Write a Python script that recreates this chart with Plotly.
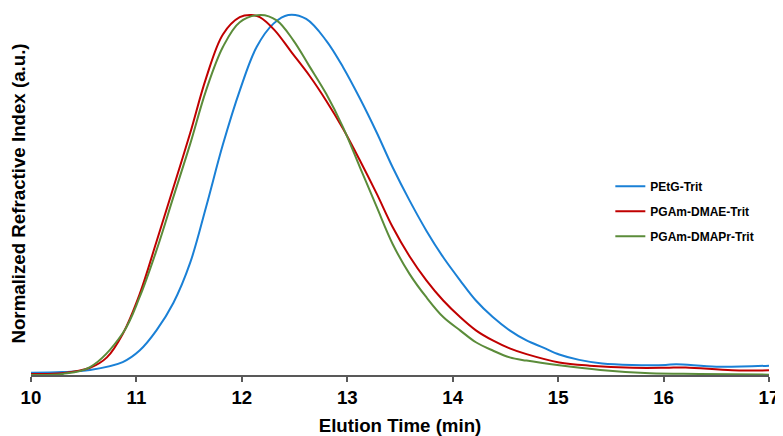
import plotly.graph_objects as go

# Elution time (min) and normalized RI values
petg_t = [10.00, 10.30, 10.56, 10.87, 11.03, 11.19, 11.35, 11.51, 11.66, 11.82, 11.98, 12.14,
          12.30, 12.44, 12.61, 12.80, 12.96, 13.12, 13.28, 13.43, 13.59, 13.75, 13.91, 14.07,
          14.22, 14.38, 14.54, 14.70, 14.86, 15.01, 15.20, 15.42, 15.70, 16.02, 16.12, 16.50,
          17.00]
petg_v = [0.006, 0.008, 0.014, 0.036, 0.068, 0.124, 0.200, 0.312, 0.466, 0.640, 0.790, 0.911,
          0.976, 1.000, 0.989, 0.929, 0.855, 0.768, 0.673, 0.577, 0.485, 0.401, 0.327, 0.263,
          0.207, 0.161, 0.124, 0.096, 0.076, 0.057, 0.042, 0.032, 0.028, 0.028, 0.030, 0.023,
          0.026]

dmae_t = [10.00, 10.30, 10.56, 10.72, 10.87, 11.03, 11.19, 11.35, 11.51, 11.66, 11.82, 11.98,
          12.09, 12.17, 12.31, 12.47, 12.64, 12.80, 12.96, 13.12, 13.28, 13.43, 13.59, 13.75,
          13.91, 14.07, 14.22, 14.38, 14.54, 14.70, 15.01, 15.30, 15.71, 16.02, 16.21, 16.65,
          17.00]
dmae_v = [0.003, 0.005, 0.020, 0.049, 0.114, 0.224, 0.370, 0.520, 0.672, 0.824, 0.946, 0.994,
          1.000, 0.994, 0.958, 0.897, 0.832, 0.762, 0.684, 0.596, 0.503, 0.411, 0.330, 0.263,
          0.207, 0.161, 0.124, 0.096, 0.074, 0.058, 0.035, 0.026, 0.020, 0.020, 0.021, 0.013,
          0.013]

dmapr_t = [10.00, 10.30, 10.56, 10.87, 11.03, 11.19, 11.35, 11.51, 11.66, 11.82, 11.98, 12.18,
           12.33, 12.49, 12.64, 12.80, 12.96, 13.12, 13.28, 13.43, 13.59, 13.75, 13.91, 14.07,
           14.22, 14.38, 14.54, 14.70, 15.01, 15.40, 15.87, 16.34, 17.00]
dmapr_v = [0.000, 0.003, 0.022, 0.116, 0.216, 0.346, 0.494, 0.642, 0.790, 0.911, 0.980, 1.000,
           0.985, 0.929, 0.858, 0.781, 0.688, 0.577, 0.466, 0.364, 0.281, 0.216, 0.161, 0.124,
           0.091, 0.068, 0.049, 0.040, 0.027, 0.014, 0.005, 0.003, 0.001]

x_ticks = [10, 11, 12, 13, 14, 15, 16, 17]

series = [
    ("PEtG-Trit", petg_t, petg_v, "#1a80d6"),
    ("PGAm-DMAE-Trit", dmae_t, dmae_v, "#c00000"),
    ("PGAm-DMAPr-Trit", dmapr_t, dmapr_v, "#5b8c3a"),
]

fig = go.Figure()
for i, (name, t, v, c) in enumerate(series):
    fig.add_trace(go.Scatter(
        x=t, y=v, mode="lines", name=name, legendgroup=f"g{i}",
        line=dict(color=c, width=2, shape="spline", smoothing=1.0),
    ))

font_family = "Liberation Sans, Arial, sans-serif"
big = 18.7
# the page body adds an 8px offset, so the figure is sized 8px smaller
fig.update_layout(
    width=775, height=428,
    margin=dict(l=23, r=14, t=4, b=61),
    paper_bgcolor="white", plot_bgcolor="white",
    font=dict(family=font_family, color="black"),
    showlegend=True,
    legend=dict(
        x=0.785, y=0.56, xanchor="left", yanchor="top",
        font=dict(size=12, family=font_family, color="black", weight="bold"),
        bgcolor="rgba(0,0,0,0)", tracegroupgap=6,
    ),
    xaxis=dict(
        range=[10, 17], tickvals=x_ticks, ticktext=[str(t) for t in x_ticks],
        showgrid=False, zeroline=False, automargin=False,
        showline=True, linecolor="#595959", linewidth=2,
        ticks="outside", ticklen=5, tickwidth=1.5, tickcolor="#595959",
        tickfont=dict(size=big, family=font_family, color="black", weight="bold"),
        title=dict(text="Elution Time (min)", standoff=12,
                   font=dict(size=big, family=font_family, color="black", weight="bold")),
    ),
    yaxis=dict(
        range=[0, 1.0083], showgrid=False, zeroline=False, showline=False,
        showticklabels=False, ticks="", automargin=False,
        title=dict(text="Normalized Refractive Index (a.u.)", standoff=2,
                   font=dict(size=big, family=font_family, color="black", weight="bold")),
    ),
)

fig.write_html("out.html")
